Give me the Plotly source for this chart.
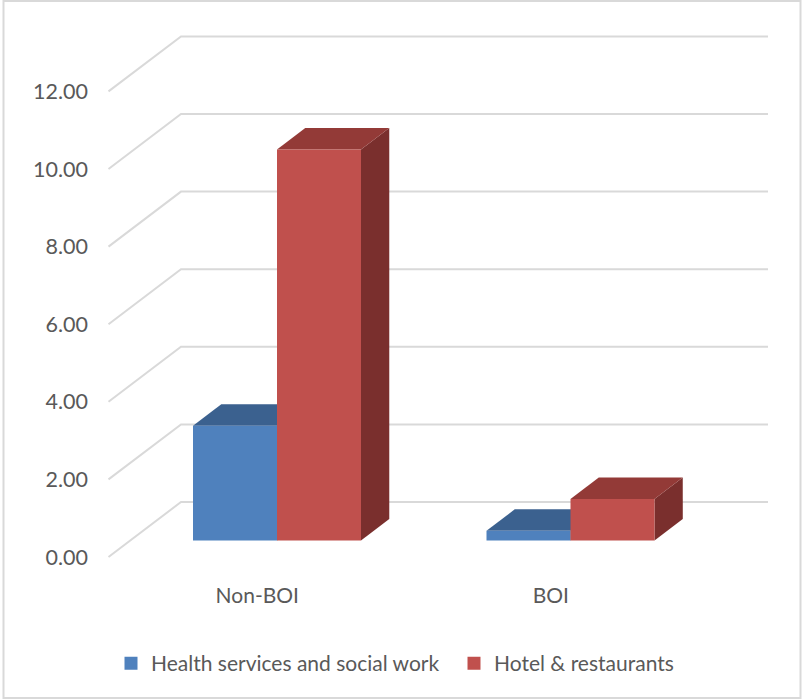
import plotly.graph_objects as go

categories = ["Non-BOI", "BOI"]
series_names = ["Health services and social work", "Hotel & restaurants"]
health_values = [2.96, 0.25]
hotel_values = [10.08, 1.07]
y_ticks = [0, 2, 4, 6, 8, 10, 12]
y_tick_labels = ["0.00", "2.00", "4.00", "6.00", "8.00", "10.00", "12.00"]

front_colors = ["#4F81BD", "#C0504D"]
top_colors = ["#3B618F", "#933A37"]
side_colors = ["#2F4D71", "#7A2F2D"]
GRID = "#D9D9D9"
TEXT = "#595959"
FONT = "Lato, sans-serif"

# oblique projection, in axis units (1 category wide, 1 value unit high)
DEPTH_X = 72.5 / 293.5
DEPTH_Y = 55 / 38.8
BAR_W = 84 / 293.5
BAR_D0 = 0.30
BAR_D1 = 0.69


def project(x, v, d):
    return x + d * DEPTH_X, v + d * DEPTH_Y


def poly(points, color):
    xs, ys = zip(*[project(*p) for p in points])
    return go.Scatter(x=list(xs) + [xs[0]], y=list(ys) + [ys[0]], mode="lines", fill="toself",
                      fillcolor=color, line=dict(width=0, color=color), showlegend=False,
                      hoverinfo="skip")


fig = go.Figure()

# gridlines: side wall then back wall
n_cat = len(categories)
for t in y_ticks:
    pts = [project(0, t, 0), project(0, t, 1), project(n_cat, t, 1)]
    fig.add_trace(go.Scatter(x=[p[0] for p in pts], y=[p[1] for p in pts], mode="lines",
                             line=dict(color=GRID, width=2), showlegend=False, hoverinfo="skip"))

for c in range(n_cat):
    center = c + 0.5
    for s, vals in enumerate([health_values, hotel_values]):
        x0 = center + (s - 1) * BAR_W
        x1 = x0 + BAR_W
        v = vals[c]
        fig.add_trace(poly([(x1, 0, BAR_D0), (x1, 0, BAR_D1), (x1, v, BAR_D1), (x1, v, BAR_D0)], side_colors[s]))
        fig.add_trace(poly([(x0, v, BAR_D0), (x1, v, BAR_D0), (x1, v, BAR_D1), (x0, v, BAR_D1)], top_colors[s]))
        fig.add_trace(poly([(x0, 0, BAR_D0), (x1, 0, BAR_D0), (x1, v, BAR_D0), (x0, v, BAR_D0)], front_colors[s]))

for s, name in enumerate(series_names):
    fig.add_trace(go.Scatter(x=[None], y=[None], mode="markers", name=name,
                             marker=dict(symbol="square", size=13, color=front_colors[s])))

# frame around the chart, in paper units of the plot area
L, R, T, B = 100, 784, 20, 575
W, H = 804, 700
pw, ph = R - L, B - T
fig.add_shape(type="rect", xref="paper", yref="paper",
              x0=(3.5 - L) / pw, x1=(800.5 - L) / pw,
              y0=(B - 698) / ph, y1=(B - 1) / ph,
              line=dict(color=GRID, width=2), fillcolor="rgba(0,0,0,0)", layer="below")

fig.update_layout(
    width=W, height=H,
    margin=dict(l=L, r=W - R, t=T, b=H - B, autoexpand=False),
    paper_bgcolor="white", plot_bgcolor="white",
    font=dict(family=FONT, size=20, color=TEXT),
    showlegend=True,
    legend=dict(orientation="h", x=111 / W, xref="container", xanchor="left",
                y=0.052, yref="container", yanchor="middle",
                entrywidth=298, entrywidthmode="pixels",
                font=dict(family=FONT, size=21, color=TEXT), itemclick=False),
    xaxis=dict(range=[(L - 108.5) / 293.5, (R - 108.5) / 293.5], tickmode="array",
               tickvals=[i + 0.507 for i in range(n_cat)], ticktext=categories,
               tickfont=dict(family=FONT, size=21, color=TEXT), ticklabelstandoff=6,
               showgrid=False, zeroline=False, showline=False, ticks="",
               fixedrange=True),
    yaxis=dict(range=[(557 - B) / 38.8, (557 - T) / 38.8], tickmode="array",
               tickvals=y_ticks, ticktext=y_tick_labels,
               tickfont=dict(family=FONT, size=21.5, color=TEXT), ticklabelstandoff=11,
               showgrid=False, zeroline=False, showline=False, ticks="",
               fixedrange=True),
)

fig.write_html("out.html", post_script="document.body.style.margin='0';",
               config={"displayModeBar": False})
